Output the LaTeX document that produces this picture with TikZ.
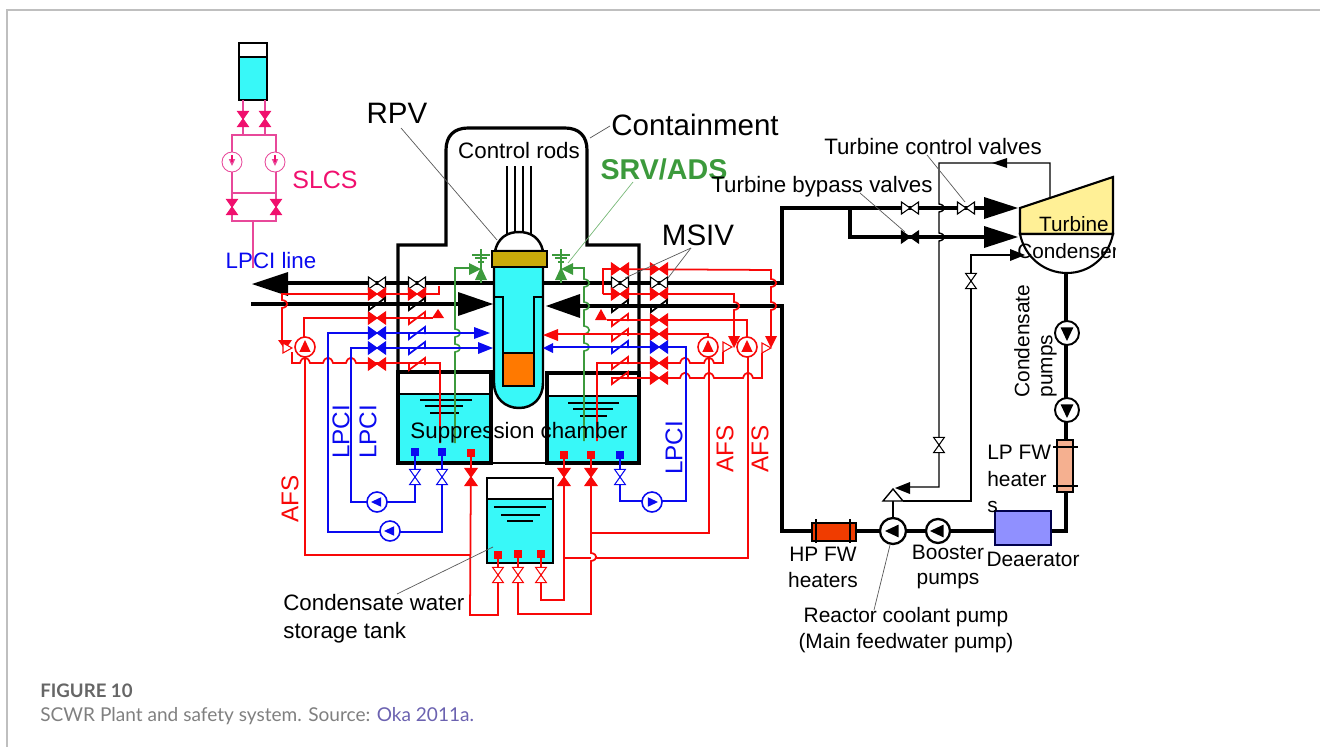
\documentclass[tikz,border=0pt]{standalone}
\usepackage{fontspec}
\setmainfont{Liberation Sans}
\newfontfamily\capfont{Lato}
\definecolor{water}{HTML}{38F8F8}
\definecolor{pinkline}{HTML}{E8489A}
\definecolor{pinkfill}{HTML}{F0106E}
\definecolor{srvgreen}{HTML}{3C9A3C}
\definecolor{pipered}{HTML}{F80808}
\definecolor{pipeblue}{HTML}{0A0AF0}
% hops of a pipe over another pipe
\newcommand{\hopv}[2]{-- (#1,#2-4) .. controls (#1+7,#2-3) and (#1+7,#2+3) .. (#1,#2+4)}
\newcommand{\hoph}[2]{-- (#1-5,#2) .. controls (#1-3,#2-7) and (#1+3,#2-7) .. (#1+5,#2)}
\tikzset{
    lbl/.style={inner sep=0pt, font=\fontsize{12.7}{14.7}\selectfont},
    smalllbl/.style={inner sep=0pt, font=\fontsize{11.9}{14.7}\selectfont},
    sidelbl/.style={inner sep=0pt, rotate=90, font=\fontsize{13.8}{15}\selectfont},
    biglbl/.style={inner sep=0pt, font=\fontsize{16.8}{18}\selectfont},
    steam/.style={line width=2.5pt},
    wall/.style={line width=1.8pt},
    thinline/.style={line width=0.8pt},
    leader/.style={line width=0.4pt, black!65},
    redline/.style={line width=1pt, pipered},
    blueline/.style={line width=1pt, pipeblue},
    greenline/.style={line width=0.9pt, srvgreen},
    pinkpipe/.style={line width=0.7pt, pinkline},
    nozzle/.style={inner sep=0pt, minimum size=4.5pt},
    pics/valve/.style 2 args={code={
        \filldraw[fill=#1, draw=#2, line width=0.6pt] (-8.5,-6) -- (8.5,6) -- (8.5,-6) -- (-8.5,6) -- cycle;}},
    pics/check/.style={code={
        \draw[#1, line width=1pt] (-8,-1) -- (-8,6) -- (8,-6) -- (8,1);}},
    pics/pump/.style n args={3}{code={
        \draw[#1, fill=white] (0,0) circle (#2);
        \fill[#1] (#3,0) -- (-0.7*#3,-0.8*#3) -- (-0.7*#3,0.8*#3) -- cycle;}},
    pics/tiphead/.style n args={3}{code={
        \fill[#1] (0,0) -- (-#2,-#3) -- (-#2,#3) -- cycle;}},
    pics/threeway/.style={code={
        \filldraw[fill=white, draw=#1, line width=0.6pt] (0,0) -- (-9,-5) -- (-9,5) -- cycle;}}
}
\begin{document}
\begin{tikzpicture}[x=0.02cm, y=-0.02cm]
    \useasboundingbox (0,0) rectangle (1320,747);

    % Frame of the figure
    \draw[black!25, line width=0.6pt] (7,747) -- (7,10) -- (1320,10);

    % SLCS tank and loop
    \fill[water] (239,57) rectangle (267,100);
    \draw[wall, line width=1.1pt] (239,43) rectangle (267,100);
    \draw[line width=1.1pt] (239,57) -- (267,57);
    \draw[pinkpipe] (243,100) -- (243,135);
    \draw[pinkpipe] (265,100) -- (265,135);
    \draw[pinkpipe] (232,135) rectangle (276,221);
    \draw[pinkpipe] (232,193) -- (276,193);
    \draw[pinkpipe] (253,221) -- (253,268);
    \foreach \x/\y in {243/119, 265/119, 232/207, 276/207}
        \pic[rotate=90, scale=0.9] at (\x,\y) {valve={pinkfill}{pinkfill}};
    \foreach \x in {232,275} {
        \pic[rotate=-90] at (\x,162) {pump={pinkline, line width=0.5pt}{10}{4}};
        \draw[pinkfill, line width=0.6pt] (\x,155) -- (\x,162);
    }

    % Containment
    \draw[wall] (398,372) -- (398,245) -- (446,245) -- (446,150) .. controls (446,136) and (454,128) .. (468,128) -- (565,128) .. controls (579,128) and (587,136) .. (587,150) -- (587,245) -- (639,245) -- (639,372);

    % Suppression chambers
    \fill[water] (398,394) rectangle (491,463);
    \fill[water] (547,396) rectangle (638,462);
    \draw[wall] (398,372) rectangle (491,463);
    \draw[wall] (547,373) rectangle (639,463);
    \draw[line width=1.1pt] (398,394) -- (491,394);
    \draw[line width=1.1pt] (547,396) -- (639,396);
    \draw[line width=0.6pt] (491,463) -- (547,463);
    \foreach \a/\b/\y in {420/472/400, 425/463/406, 430/459/413, 568/619/403, 573/613/409, 580/607/416}
        \draw[line width=0.8pt] (\a,\y) -- (\b,\y);

    % Condensate water storage tank
    \fill[water] (487,499) rectangle (553,563);
    \draw[line width=1.1pt] (487,478) rectangle (553,563);
    \draw[line width=1pt] (487,499) -- (553,499);
    \foreach \a/\b/\y in {494/546/507, 501/540/515, 507/533/521}
        \draw[line width=0.9pt] (\a,\y) -- (\b,\y);

    % Control rods
    \foreach \x in {507,515,523,531}
        \draw[line width=0.7pt] (\x,166) -- (\x,234);

    % RPV
    \filldraw[fill=white, line width=1.4pt] (495,251) .. controls (498,238) and (507,232) .. (519,232) .. controls (531,232) and (540,238) .. (543,251) -- cycle;
    \filldraw[fill=water, line width=1.4pt] (494,267) -- (494,383) .. controls (494,398) and (505,408) .. (519,408) .. controls (533,408) and (543,398) .. (543,383) -- (543,267);
    \draw[line width=1.4pt] (494,297) -- (503,297) -- (503,386) -- (534,386) -- (534,297) -- (543,297);
    \fill[orange!95!red] (504,353) rectangle (533,385);
    \draw[line width=1.4pt] (503,353) -- (534,353);
    \filldraw[fill={rgb,255:red,200;green,170;blue,10}, line width=1.4pt] (492,251) rectangle (547,267);

    % Main steam and feedwater lines
    \draw[steam] (285,283) -- (494,283);
    \draw[steam] (251,304) -- (470,304);
    \draw[steam] (543,283) -- (782,283) -- (782,208) -- (990,208);
    \draw[steam] (570,306) -- (782,306) -- (782,531) -- (995,531);
    \draw[steam] (850,208) -- (850,237) -- (990,237);
    \draw[steam, line width=2pt] (1066,273) -- (1066,531) -- (1050,531);
    \pic[rotate=180] at (252,284) {tiphead={black}{36}{12}};
    \pic at (493,304) {tiphead={black}{35}{12}};
    \pic[rotate=180] at (546,306) {tiphead={black}{34}{12}};
    \pic at (1018,208) {tiphead={black}{34}{11}};
    \pic at (1018,237) {tiphead={black}{34}{11}};

    % Turbine and condenser
    \filldraw[fill={rgb,255:red,255;green,240;blue,150}, line width=1.2pt] (1020,208) -- (1113,177) -- (1113,234) -- (1020,234) -- cycle;
    \filldraw[fill=white, line width=1.2pt] (1020,234) .. controls (1025,258) and (1045,273) .. (1067,273) .. controls (1089,273) and (1108,258) .. (1113,234) -- cycle;
    \draw[line width=1.6pt] (1020,234) -- (1113,234);

    % Feedwater train
    \filldraw[fill={rgb,255:red,240;green,60;blue,0}, line width=0.8pt] (812,523) rectangle (856,541);
    \draw[line width=0.6pt] (816,519) -- (816,543);
    \draw[line width=0.6pt] (850,519) -- (850,543);
    \filldraw[fill={rgb,255:red,245;green,176;blue,144}, line width=0.8pt] (1057,440) rectangle (1073,492);
    \draw[line width=0.6pt] (1053,447) -- (1078,447);
    \draw[line width=0.6pt] (1053,486) -- (1078,486);
    \filldraw[fill={rgb,255:red,144;green,144;blue,255}, draw=black!70!blue, line width=1pt] (995,511) rectangle (1051,545);
    \draw[line width=1.1pt] (893,518) -- (893,501);
    \filldraw[fill=white, line width=0.8pt] (883,501) -- (903,501) -- (893,489) -- cycle;

    % Thin lines to the turbine side
    \draw[thinline] (1050,197) -- (1050,163) -- (939,163) \hopv{939}{208} \hopv{939}{237} -- (939,487) -- (908,487);
    \draw[thinline] (903,501) -- (971,501) -- (971,255) -- (1012,255);
    \pic[rotate=180] at (992,163) {tiphead={black}{15}{5}};
    \pic[rotate=180] at (895,488) {tiphead={black}{15}{6}};
    \pic at (1025,255) {tiphead={black}{15}{6}};

    % SRV lines
    \draw[greenline] (469,268) -- (455,268) \hopv{455}{333} \hopv{455}{348} -- (455,443);
    \draw[greenline] (573,268) -- (584,268) \hopv{584}{283} \hopv{584}{306} \hopv{584}{330} \hopv{584}{347} -- (584,441);

    % AFS lines, left
    \draw[redline] (439,286) -- (439,294) -- (282,294) \hopv{282}{304} -- (282,340);
    \draw[redline] (292,352) -- (292,363) \hoph{305}{363} \hoph{328}{363} \hoph{351}{363} -- (440,363) -- (440,443);
    \draw[redline] (470,555) -- (305,555) -- (305,358);
    \draw[redline] (304,337) -- (304,318) -- (433,318);
    \pic[rotate=90] at (438,309) {tiphead={pipered}{9}{6}};
    \pic[rotate=-90] at (285,350) {tiphead={pipered}{10}{7}};
    \pic at (292,348) {threeway=pipered};
    \pic[rotate=90] at (305,347) {pump={pipered, line width=0.9pt}{10}{7}};

    % AFS lines, right
    \draw[redline] (603,294) -- (603,269) -- (771,270) \hopv{771}{283} \hopv{771}{306} -- (771,336);
    \draw[redline] (603,294) -- (734,294) \hopv{734}{306} -- (734,336);
    \draw[redline] (607,320) -- (747,320) -- (747,337);
    \draw[redline] (558,334) -- (708,334) -- (708,337);
    \draw[redline] (597,441) -- (597,363) \hoph{685}{363} \hoph{709}{363} -- (723,363) -- (723,352);
    \draw[redline] (612,378) \hoph{685}{378} \hoph{709}{378} \hoph{748}{378} -- (762,378) -- (762,353);
    \draw[redline] (709,357) -- (709,533) -- (591,533);
    \draw[redline] (748,357) -- (748,558) -- (595,558);
    \draw[redline] (591,558) -- (564,558);
    \draw[redline] (591,453) \hopv{591}{557} -- (591,614) -- (518,614) -- (518,554);
    \draw[redline] (564,453) -- (564,600) -- (541,600) -- (541,554);
    \draw[redline] (471,453) -- (470,615) -- (498,615) -- (498,554);
    \pic[rotate=90] at (601,309) {tiphead={pipered}{11}{6}};
    \pic[rotate=180] at (543,335) {tiphead={pipered}{15}{6}};
    \pic[rotate=-90] at (734,348) {tiphead={pipered}{12}{6}};
    \pic[rotate=-90] at (771,348) {tiphead={pipered}{12}{6}};
    \pic at (732,347) {threeway=pipered};
    \pic at (771,348) {threeway=pipered};
    \pic[rotate=90] at (708,347) {pump={pipered, line width=0.9pt}{10}{7}};
    \pic[rotate=90] at (747,347) {pump={pipered, line width=0.9pt}{10}{7}};

    % LPCI lines
    \draw[blueline] (475,333) -- (328,333) -- (328,532) -- (442,532) -- (442,452);
    \draw[blueline] (479,348) -- (351,348) -- (351,502) -- (415,502) -- (415,452);
    \draw[blueline] (620,453) -- (620,501) -- (686,501) -- (686,347) -- (553,347);
    \pic at (490,333) {tiphead={pipeblue}{16}{6}};
    \pic at (493,348) {tiphead={pipeblue}{15}{6}};
    \pic[rotate=180] at (543,348) {tiphead={pipeblue}{10}{5}};
    \pic[rotate=180] at (377,502) {pump={pipeblue, line width=0.9pt}{10}{6}};
    \pic[rotate=180] at (390,531) {pump={pipeblue, line width=0.9pt}{10}{6}};
    \pic at (652,502) {pump={pipeblue, line width=0.9pt}{10}{6}};

    % Nozzles
    \foreach \x/\y in {415/452, 442/452, 620/455}
        \node[nozzle, fill=pipeblue] (noz\x) at (\x,\y) {};
    \foreach \x/\y in {471/453, 564/455, 591/455, 498/555, 518/554, 541/554}
        \node[nozzle, fill=pipered] (noz\x) at (\x,\y) {};

    % Valves on the lines
    \foreach \x in {377,417,620,659}
        \pic at (\x,283) {valve={white}{black}};
    \foreach \x/\y in {377/294, 417/294, 377/318, 377/364, 620/269, 659/269, 620/294, 659/294, 659/320, 659/334, 659/363, 659/378}
        \pic at (\x,\y) {valve={pipered}{pipered}};
    \foreach \x/\y in {377/333, 377/348, 659/347}
        \pic at (\x,\y) {valve={pipeblue}{pipeblue}};
    \foreach \x/\y in {471/477, 564/477, 591/477}
        \pic[rotate=90] at (\x,\y) {valve={pipered}{pipered}};
    \foreach \x/\y in {498/575, 518/575, 541/575}
        \pic[rotate=90, scale=0.9] at (\x,\y) {valve={white}{pipered}};
    \foreach \x in {415,442,620}
        \pic[rotate=90, scale=0.9] at (\x,477) {valve={white}{pipeblue}};

    % Check valves
    \foreach \x/\y in {377/304, 417/304, 620/306, 659/306}
        \pic at (\x,\y) {check=black};
    \foreach \x/\y in {417/318, 417/364, 620/320, 620/335, 620/363, 620/378}
        \pic at (\x,\y) {check=pipered};
    \foreach \x/\y in {417/333, 417/348, 620/347}
        \pic at (\x,\y) {check=pipeblue};

    % Valves on the turbine side
    \pic at (910,208) {valve={white}{black}};
    \pic at (966,208) {valve={white}{black}};
    \pic at (910,237) {valve={black}{black}};
    \pic[rotate=90, scale=0.9] at (939,445) {valve={white}{black}};
    \pic[rotate=90, scale=0.9] at (971,281) {valve={white}{black}};

    % SRV symbols
    \foreach \x/\r in {481/0, 561/180} {
        \draw[greenline] (\x,249) -- (\x,283);
        \draw[greenline] (\x-9,255) -- (\x+9,255);
        \draw[greenline] (\x-6,258) -- (\x+6,258);
        \draw[greenline] (\x-3,262) -- (\x+3,262);
        \pic[rotate=\r] at (\x,269) {tiphead={srvgreen}{12}{6}};
        \pic[rotate=90] at (\x,267) {tiphead={srvgreen}{13}{6}};
    }

    % Pumps
    \pic[rotate=-90] at (1067,333) {pump={black, line width=1.1pt}{12}{8}};
    \pic[rotate=-90] at (1067,410) {pump={black, line width=1.1pt}{12}{8}};
    \pic[rotate=180] at (893,531) {pump={black, line width=1.3pt}{13}{8}};
    \pic[rotate=180] at (938,531) {pump={black, line width=1.3pt}{12}{8}};

    % Labels
    \node[biglbl] (rpvlabel) at (397,113) {RPV};
    \node[biglbl] (containmentlabel) at (695,125) {Containment};
    \node[biglbl] (msivlabel) at (698,235) {MSIV};
    \node[biglbl, font=\fontsize{16.3}{18}\selectfont\bfseries, text=srvgreen] (srvlabel) at (664,169) {SRV/ADS};
    \node[lbl] (rodslabel) at (519,151) {Control rods};
    \node[lbl, font=\fontsize{14.2}{16}\selectfont, text=pinkfill] (slcslabel) at (325,180) {SLCS};
    \node[lbl, text=pipeblue] (lpciline) at (271,261) {LPCI line};
    \node[lbl] (chamberlabel) at (519,433) {Suppression chamber};
    \node[sidelbl, text=pipeblue] (lpcia) at (341,432) {LPCI};
    \node[sidelbl, text=pipeblue] (lpcib) at (368,432) {LPCI};
    \node[sidelbl, text=pipeblue] (lpcic) at (674,448) {LPCI};
    \node[sidelbl, text=pipered] (afsa) at (290,499) {AFS};
    \node[sidelbl, text=pipered] (afsb) at (725,449) {AFS};
    \node[sidelbl, text=pipered] (afsc) at (760,449) {AFS};
    \node[lbl, align=left, anchor=north west] (tanklabel) at (283,594) {Condensate water\\[1.3pt]storage tank};
    \node[lbl] (controllabel) at (933,147) {Turbine control valves};
    \node[lbl] (bypasslabel) at (822,187) {Turbine bypass valves};
    \node[lbl, font=\fontsize{11.8}{13}\selectfont] (turbinelabel) at (1074,224) {Turbine};
    \begin{scope}
        \clip (1000,236) rectangle (1115,272);
        \node[lbl, font=\fontsize{11.8}{13}\selectfont, anchor=west] (condenserlabel) at (1017,251) {Condenser};
    \end{scope}
    \node[smalllbl, rotate=90] (condensatelabel) at (1022,341) {Condensate};
    \node[smalllbl, rotate=90] (pumpslabel) at (1049,366) {pumps};
    \node[smalllbl, align=left, anchor=north west] (lplabel) at (987,445) {LP FW\\[0.3pt]heater\\[0.3pt]s};
    \node[smalllbl, align=center] (hplabel) at (823,567) {HP FW\\heaters};
    \node[smalllbl, align=center] (boosterlabel) at (948,567) {Booster\\pumps};
    \node[smalllbl] (deaeratorlabel) at (1033,559) {Deaerator};
    \node[smalllbl, align=center] (rcplabel) at (906,630) {Reactor coolant pump\\(Main feedwater pump)};

    % Leader lines
    \coordinate (rpvfoot) at (401,128);
    \coordinate (rpvend) at (497,240);
    \coordinate (contfoot) at (610,126);
    \coordinate (contend) at (590,138);
    \coordinate (srvfoot) at (633,182);
    \coordinate (srvend) at (568,263);
    \coordinate (msivfoot) at (691,248);
    \coordinate (msiva) at (625,278);
    \coordinate (msivb) at (668,278);
    \coordinate (ctrlfoot) at (927,155);
    \coordinate (ctrlend) at (965,202);
    \coordinate (bypfoot) at (860,193);
    \coordinate (bypend) at (905,232);
    \coordinate (tankfoot) at (397,594);
    \coordinate (tankend) at (493,547);
    \coordinate (rcpfoot) at (874,610);
    \coordinate (rcpend) at (890,545);
    \draw[leader] (rpvfoot) -- (rpvend);
    \draw[leader] (contfoot) -- (contend);
    \draw[leader, srvgreen!70] (srvfoot) -- (srvend);
    \draw[leader] (msivfoot) -- (msiva);
    \draw[leader] (msivfoot) -- (msivb);
    \draw[leader] (ctrlfoot) -- (ctrlend);
    \draw[leader] (bypfoot) -- (bypend);
    \draw[leader] (tankfoot) -- (tankend);
    \draw[leader] (rcpfoot) -- (rcpend);

    % Caption
    \node[inner sep=0pt, anchor=west, text=black!60, font=\capfont\bfseries\fontsize{10.6}{12}\selectfont] (figlabel) at (40,691) {FIGURE 10};
    \node[inner sep=0pt, anchor=west, text=black!50, font=\capfont\fontsize{10.85}{12}\selectfont] (captionlabel) at (40,716) {SCWR Plant and safety system. Source: \textcolor[HTML]{6B62B0}{Oka 2011a.}};
\end{tikzpicture}
\end{document}
